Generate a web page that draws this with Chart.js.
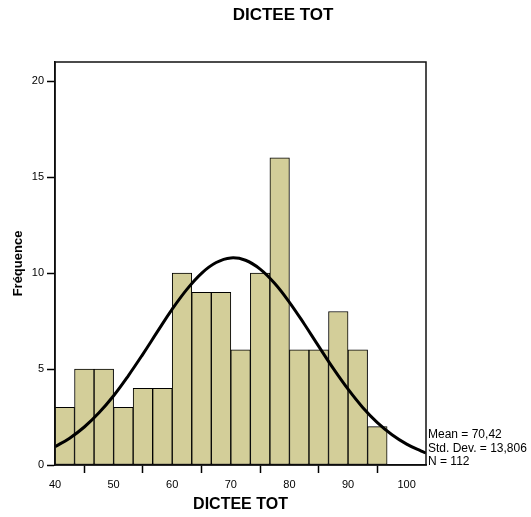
<!DOCTYPE html>
<html>
<head>
<meta charset="utf-8">
<script src="https://cdn.jsdelivr.net/npm/chart.js@4"></script>
<style>
  body { margin: 0; background: #fff; }
  canvas { display: block; }
</style>
</head>
<body>
<canvas id="histChart" width="531" height="517"></canvas>
<script>
// Histogram data (bins of width 10/3 starting at 40)
const binStart = 40;
const binWidth = 10 / 3;
const counts = [3, 5, 5, 3, 4, 4, 10, 9, 9, 6, 10, 16, 6, 6, 8, 6, 2];

// Normal curve
const curveX = [40, 42.5, 45, 47.5, 50, 52.5, 55, 57.5, 60, 62.5, 65, 67.5, 70, 72.5, 75, 77.5, 80, 82.5, 85, 87.5, 90, 92.5, 95, 97.5, 100, 102.5, 103.3];
const curveY = [0.95, 1.4, 1.98, 2.72, 3.61, 4.65, 5.78, 6.96, 8.12, 9.15, 9.99, 10.55, 10.79, 10.67, 10.21, 9.46, 8.48, 7.36, 6.18, 5.02, 3.95, 3.0, 2.21, 1.58, 1.09, 0.72, 0.62];

// Axis ticks
const xTicks = [40, 50, 60, 70, 80, 90, 100];
const yTicks = [0, 5, 10, 15, 20];

const statsLines = ["Mean = 70,42", "Std. Dev. = 13,806", "N = 112"];

// build the bar points at bin centres
const barData = counts.map(function (c, i) {
  return { x: binStart + binWidth * (i + 0.5), y: c };
});
const lineData = curveX.map(function (x, i) {
  return { x: x, y: curveY[i] };
});

// Frame and texts drawn around the plot
const extrasPlugin = {
  id: "extras",
  afterDraw: function (chart) {
    const ctx = chart.ctx;
    const a = chart.chartArea;
    ctx.save();
    ctx.strokeStyle = "#111";
    ctx.lineWidth = 1.5;
    ctx.strokeRect(a.left, a.top, a.right - a.left, a.bottom - a.top);

    ctx.fillStyle = "#000";
    ctx.textAlign = "center";
    ctx.textBaseline = "middle";
    ctx.font = "bold 17px 'Liberation Sans', Arial, sans-serif";
    ctx.fillText("DICTEE TOT", 283, 15);
    ctx.font = "bold 16px 'Liberation Sans', Arial, sans-serif";
    ctx.fillText("DICTEE TOT", (a.left + a.right) / 2, 505);

    ctx.save();
    ctx.translate(18, (a.top + a.bottom) / 2);
    ctx.rotate(-Math.PI / 2);
    ctx.font = "bold 13px 'Liberation Sans', Arial, sans-serif";
    ctx.fillText("Fréquence", 0, 0);
    ctx.restore();

    ctx.textAlign = "left";
    ctx.font = "12px 'Liberation Sans', Arial, sans-serif";
    for (let i = 0; i < statsLines.length; i++) {
      ctx.fillText(statsLines[i], a.right + 2, 435 + i * 13.5);
    }
    ctx.restore();
  },
};

const ctx = document.getElementById("histChart").getContext("2d");
new Chart(ctx, {
  type: "bar",
  data: {
    datasets: [
      {
        type: "line",
        data: lineData,
        borderColor: "#000",
        borderWidth: 3,
        pointRadius: 0,
        tension: 0.4,
        fill: false,
        order: 0,
      },
      {
        type: "bar",
        data: barData,
        backgroundColor: "#d3ce99",
        borderColor: "#000",
        borderWidth: 1,
        borderSkipped: false,
        barPercentage: 1,
        categoryPercentage: 1,
        order: 1,
      },
    ],
  },
  options: {
    responsive: false,
    animation: false,
    layout: {
      padding: { left: 0, top: 62, right: 105, bottom: 0 },
    },
    plugins: {
      legend: { display: false },
      tooltip: { enabled: false },
    },
    scales: {
      x: {
        type: "linear",
        offset: false,
        min: 40,
        max: 103.3,
        afterBuildTicks: function (scale) {
          scale.ticks = xTicks.map(function (v) { return { value: v }; });
        },
        afterFit: function (scale) {
          scale.height = 52;
        },
        grid: {
          drawOnChartArea: false,
          drawTicks: true,
          tickLength: 8,
          tickColor: "#000",
          tickWidth: 1.5,
        },
        border: { display: true, color: "#000", width: 1.5 },
        ticks: {
          color: "#000",
          padding: 5,
          maxRotation: 0,
          font: { family: "'Liberation Sans', Arial, sans-serif", size: 11 },
        },
      },
      y: {
        min: 0,
        max: 21,
        afterBuildTicks: function (scale) {
          scale.ticks = yTicks.map(function (v) { return { value: v }; });
        },
        afterFit: function (scale) {
          scale.width = 55;
        },
        grid: {
          drawOnChartArea: false,
          drawTicks: true,
          tickLength: 8,
          tickColor: "#000",
          tickWidth: 1.5,
        },
        border: { display: true, color: "#000", width: 1.5 },
        ticks: {
          color: "#000",
          padding: 3,
          font: { family: "'Liberation Sans', Arial, sans-serif", size: 11 },
        },
      },
    },
  },
  plugins: [extrasPlugin],
});
</script>
</body>
</html>
